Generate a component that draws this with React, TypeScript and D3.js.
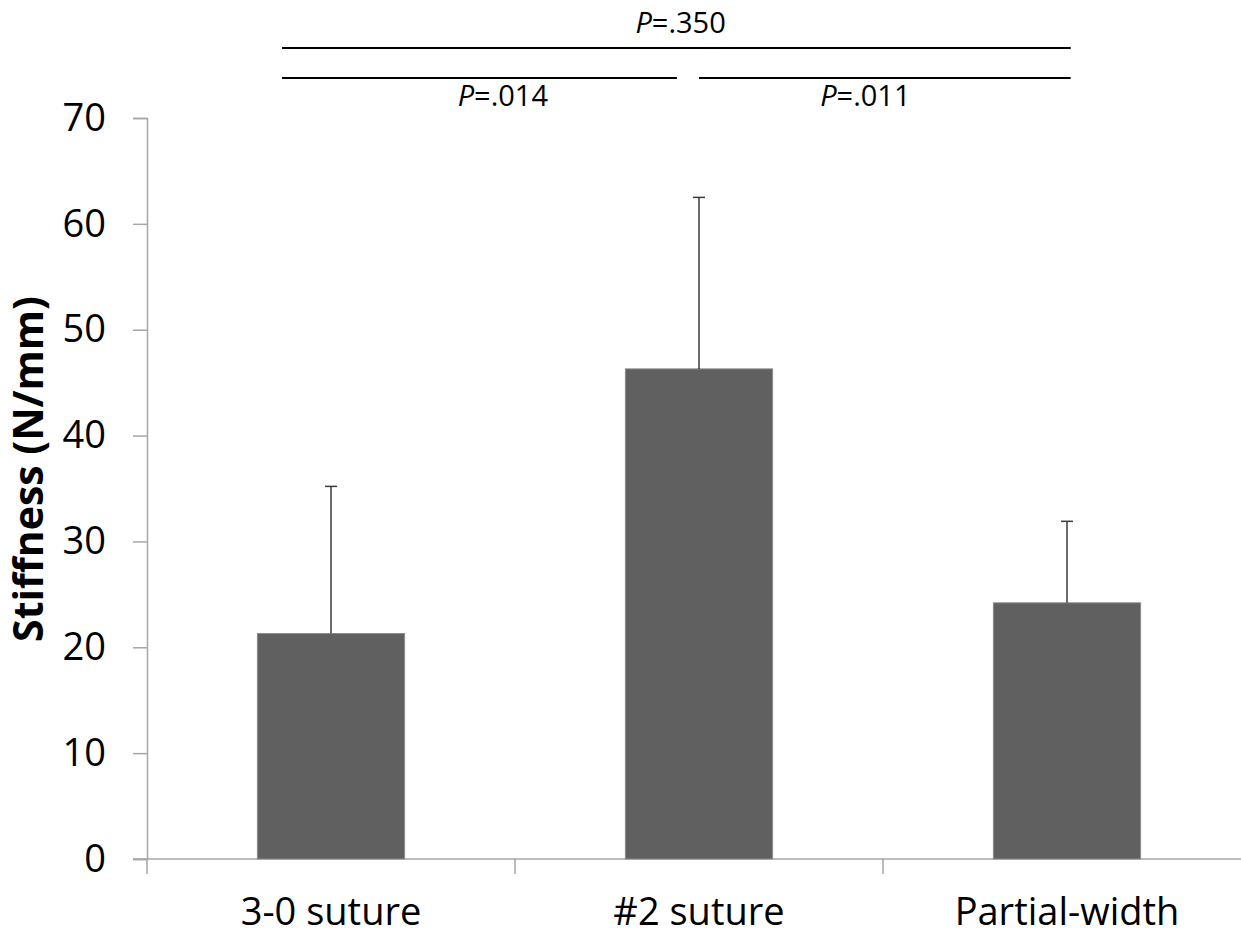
import * as d3 from "d3";
import { useRef, useEffect } from "react";

const categories = ["3-0 suture", "#2 suture", "Partial-width"];
const means = [21.3, 46.3, 24.2];
const errors = [13.9, 16.2, 7.7];
const yTicks = [0, 10, 20, 30, 40, 50, 60, 70];

// significance brackets, in category units from the left edge of the axis
const bracketFrom = [0.367, 0.367, 1.5];
const bracketTo = [2.51, 1.44, 2.51];
const bracketLevel = [0, 1, 1];
const bracketLabel = [".350", ".014", ".011"];
const bracketLabelAt = [1.45, 0.967, 1.952];
const bracketLabelSide = ["above", "below", "below"];

export default function App() {
  const ref = useRef(null);
  const width = 1241;
  const height = 936;
  const left = 147;
  const top = 118;
  const bottom = 859;
  const bandW = 368;
  const font = "'Open Sans', sans-serif";

  useEffect(() => {
    const svg = d3.select(ref.current)
      .attr("width", width)
      .attr("height", height);
    svg.selectAll("*").remove();

    const x = d3.scaleBand()
      .domain(categories)
      .range([left, left + bandW * categories.length])
      .paddingInner(0.6)
      .paddingOuter(0.3);
    const xUnit = d3.scaleLinear().domain([0, categories.length]).range([left, left + bandW * categories.length]);
    const y = d3.scaleLinear().domain([0, 70]).range([bottom, top]);

    const axisColor = "#a6a6a6";

    // y axis
    const yAxis = svg.append("g")
      .attr("transform", `translate(${left},0)`)
      .call(d3.axisLeft(y).tickValues(yTicks).tickSize(14).tickPadding(27));
    yAxis.select(".domain").attr("stroke", axisColor).attr("stroke-width", 1.5);
    yAxis.selectAll(".tick line").attr("stroke", axisColor).attr("stroke-width", 1.5);
    yAxis.selectAll(".tick text")
      .attr("fill", "#000")
      .style("font-family", font)
      .style("font-size", "38px");

    // x axis
    const xg = svg.append("g").attr("transform", `translate(0,${bottom})`);
    xg.append("line")
      .attr("x1", left - 14).attr("x2", width)
      .attr("stroke", axisColor).attr("stroke-width", 1.5);
    xg.selectAll(".xt")
      .data(d3.range(categories.length + 1))
      .join("line")
      .attr("x1", d => xUnit(d)).attr("x2", d => xUnit(d))
      .attr("y1", 0).attr("y2", 15)
      .attr("stroke", axisColor).attr("stroke-width", 1.5);
    xg.selectAll("text")
      .data(categories)
      .join("text")
      .attr("x", d => x(d) + x.bandwidth() / 2)
      .attr("y", 66)
      .attr("text-anchor", "middle")
      .style("font-family", font)
      .style("font-size", "38px")
      .text(d => d);

    // bars
    const data = categories.map((c, i) => ({ c, m: means[i], e: errors[i] }));
    svg.append("g").selectAll("rect")
      .data(data)
      .join("rect")
      .attr("x", d => x(d.c))
      .attr("y", d => y(d.m))
      .attr("width", x.bandwidth())
      .attr("height", d => y(0) - y(d.m))
      .attr("fill", "#606060")
      .attr("stroke", "#8c8c8c")
      .attr("stroke-width", 1);

    // error bars (upper only)
    const eb = svg.append("g").selectAll("g").data(data).join("g");
    eb.append("line")
      .attr("x1", d => x(d.c) + x.bandwidth() / 2)
      .attr("x2", d => x(d.c) + x.bandwidth() / 2)
      .attr("y1", d => y(d.m))
      .attr("y2", d => y(d.m + d.e))
      .attr("stroke", "#3a3a3a").attr("stroke-width", 1.5);
    eb.append("line")
      .attr("x1", d => x(d.c) + x.bandwidth() / 2 - 6)
      .attr("x2", d => x(d.c) + x.bandwidth() / 2 + 6)
      .attr("y1", d => y(d.m + d.e))
      .attr("y2", d => y(d.m + d.e))
      .attr("stroke", "#3a3a3a").attr("stroke-width", 1.5);

    // significance brackets
    const levelY = [48, 78];
    const br = svg.append("g");
    bracketFrom.forEach((f, i) => {
      br.append("line")
        .attr("x1", xUnit(f)).attr("x2", xUnit(bracketTo[i]))
        .attr("y1", levelY[bracketLevel[i]]).attr("y2", levelY[bracketLevel[i]])
        .attr("stroke", "#000").attr("stroke-width", 2);
      const t = br.append("text")
        .attr("x", xUnit(bracketLabelAt[i]))
        .attr("y", bracketLabelSide[i] === "above" ? levelY[bracketLevel[i]] - 15 : levelY[bracketLevel[i]] + 28)
        .attr("text-anchor", "middle")
        .style("font-family", font)
        .style("font-size", "29px");
      t.append("tspan").style("font-style", "italic").text("P");
      t.append("tspan").text("=" + bracketLabel[i]);
    });

    // y title
    svg.append("text")
      .attr("transform", `translate(43,469) rotate(-90)`)
      .attr("text-anchor", "middle")
      .style("font-family", font)
      .style("font-size", "41px")
      .style("font-weight", "bold")
      .text("Stiffness (N/mm)");
  }, []);

  return (
    <svg ref={ref} style={{ position: "absolute", left: 0, top: 0, background: "#fff" }}></svg>
  );
}
